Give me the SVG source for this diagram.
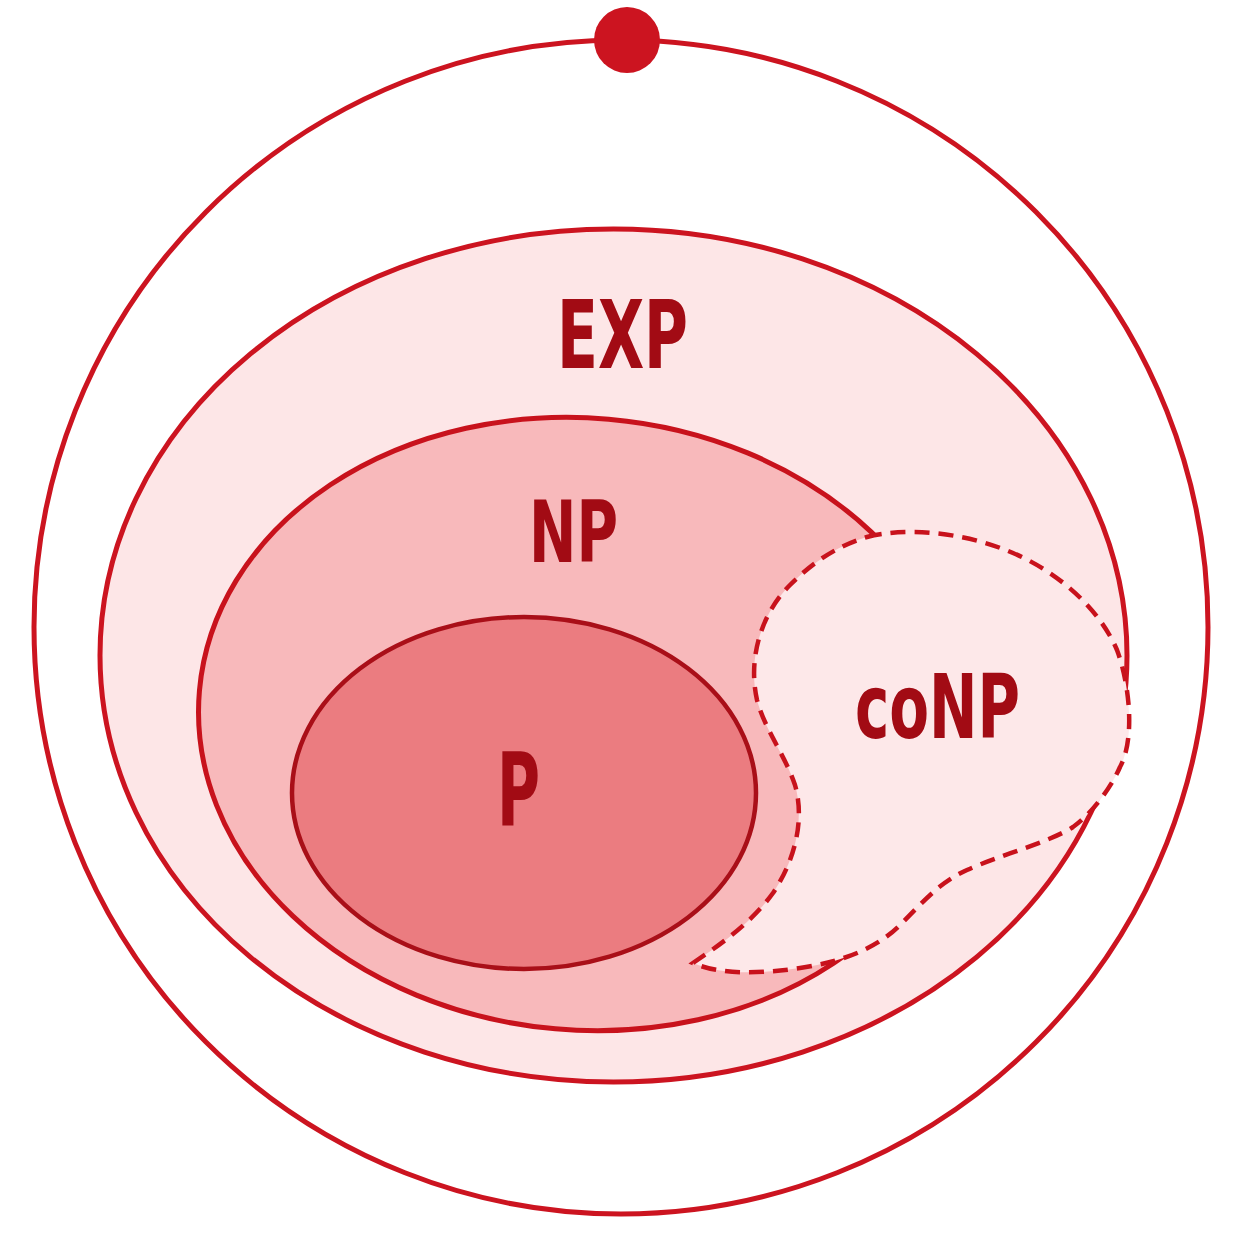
<svg xmlns="http://www.w3.org/2000/svg" width="1254" height="1254" viewBox="0 0 1254 1254">
<style>
.lbl{font-family:"Liberation Sans Narrow","DejaVu Sans Condensed","Liberation Sans",sans-serif;font-weight:bold;fill:#a20b14;text-anchor:start}
.ln{stroke:#cc1420;stroke-width:5;fill:none}
</style>
<rect width="1254" height="1254" fill="#ffffff"/>
<g id="outer">
<circle cx="621" cy="627" r="587" class="ln"/>
<circle cx="627" cy="40" r="33" fill="#cc1420"/>
</g>
<g id="exp">
<ellipse cx="613.5" cy="655.5" rx="513.5" ry="426.5" fill="#fde6e7" stroke="#cc1420" stroke-width="5"/>
<text class="lbl" x="557" y="368" font-size="95" textLength="131" lengthAdjust="spacingAndGlyphs">EXP</text>
</g>
<g id="np">
<ellipse cx="582" cy="724" rx="384" ry="306" transform="rotate(5 582 724)" fill="#f8b9bb" stroke="#c8121c" stroke-width="5"/>
<text class="lbl" x="529" y="562" font-size="86" textLength="89" lengthAdjust="spacingAndGlyphs">NP</text>
</g>
<g id="conp">
<path d="M867,537 C900,528 960,530 1013,553 C1060,573 1100,610 1117,650 C1130,685 1135,740 1120,767 C1110,790 1090,815 1073,827 C1050,842 1000,855 967,870 C940,882 925,900 900,925 C875,950 840,962 800,968 C760,974 720,975 693,963 C715,948 750,925 773,893 C795,860 805,820 795,785 C785,755 765,730 757,700 C748,660 760,615 790,585 C815,560 840,545 867,537 Z" fill="#fde8e9" stroke="#c8121c" stroke-width="4.5" stroke-dasharray="15 9"/>
<text class="lbl" x="855" y="738" font-size="89" textLength="165" lengthAdjust="spacingAndGlyphs">coNP</text>
</g>
<g id="p">
<ellipse cx="524" cy="793" rx="232" ry="176" fill="#eb7c80" stroke="#a90f18" stroke-width="4.5"/>
<text class="lbl" x="497" y="826" font-size="102" textLength="43" lengthAdjust="spacingAndGlyphs">P</text>
</g>
<g id="connectors"></g>
</svg>
